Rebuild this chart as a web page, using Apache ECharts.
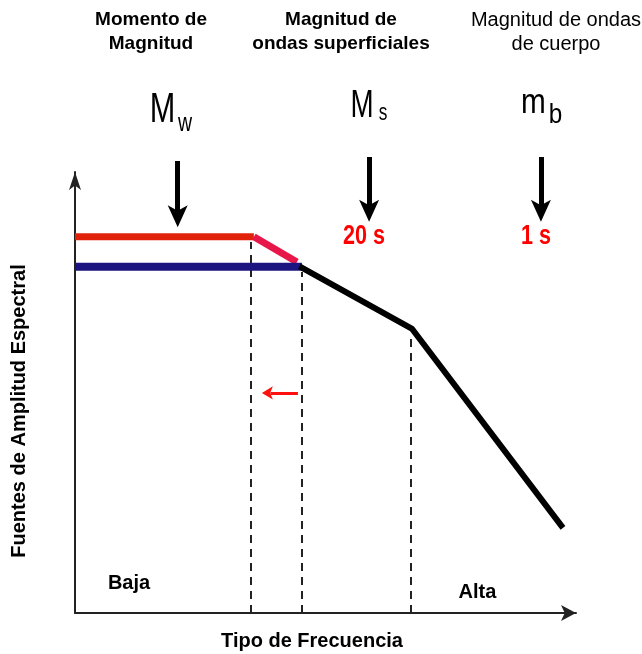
<!DOCTYPE html>
<html><head><meta charset="utf-8">
<script src="https://cdn.jsdelivr.net/npm/echarts@6/dist/echarts.min.js"></script>
<style>html,body{margin:0;padding:0;background:#fff}#c{width:642px;height:654px}</style>
</head><body><div id="c"></div>
<script>
// ---- data (axis units: 0..100 in both directions) ----
const redPlateau  = [[0, 85.3], [35.7, 85.3]];
const redSlope    = [[35.7, 85.3], [44.3, 79.6]];
const bluePlateau = [[0, 78.5], [45.3, 78.5]];
const blackDecay  = [[44.8, 78.6], [67.3, 64.4], [97.4, 19.3]];
const cornerLines = [
  [[35.1, 0], [35.1, 84.1]],
  [[45.3, 0], [45.3, 77.3]],
  [[67.1, 0], [67.1, 63.5]]
];
const arrowShafts = [
  [[20.5, 102.5], [20.5, 90.9]],
  [[58.7, 103.4], [58.7, 92.1]],
  [[93.0, 103.4], [93.0, 92.1]]
];
const arrowTips = [[20.5, 87.5], [58.7, 88.7], [93.0, 88.7]];
const shiftShaft = [[44.5, 49.9], [39.0, 49.9]];
const shiftTip = [37.3, 49.9];
const periodLabels = [['20 s', 364, 237], ['1 s', 536, 237]];
const topLabels = ['Momento de\nMagnitud', 'Magnitud de\nondas superficiales', 'Magnitud de ondas\nde cuerpo'];
const xName = 'Tipo de Frecuencia';
const yName = 'Fuentes de Amplitud Espectral';
const bandLabels = ['Baja', 'Alta'];

const chart = echarts.init(document.getElementById('c'), null, {renderer: 'canvas'});
const F = '"Liberation Sans", Arial, Helvetica, sans-serif';
function txt(x, y, text, font, opts) {
  return Object.assign({
    type: 'text', x: x, y: y,
    style: {text: text, font: font, fill: '#000', align: 'center', textAlign: 'center',
            verticalAlign: 'middle', textVerticalAlign: 'middle', lineHeight: 24}
  }, opts || {});
}
const g = [
  txt(151, 32, topLabels[0], 'bold 19px ' + F),
  txt(341, 32, topLabels[1], 'bold 19px ' + F),
  txt(556, 32, topLabels[2], '20px ' + F),
  // magnitude symbols
  txt(162.5, 110, 'M', '42px ' + F, {scaleX: 0.73}),
  txt(185, 124, 'w', '26px ' + F, {scaleX: 0.75}),
  txt(362, 106.5, 'M', '38px ' + F, {scaleX: 0.73}),
  txt(383, 114, 's', '23px ' + F, {scaleX: 0.75}),
  txt(533.5, 103, 'm', '35px ' + F, {scaleX: 0.85}),
  txt(555.5, 115.5, 'b', '27px ' + F, {scaleX: 0.9}),
  txt(129, 583, bandLabels[0], 'bold 20px ' + F),
  txt(477.5, 592, bandLabels[1], 'bold 20px ' + F),
  txt(312, 641, xName, 'bold 20px ' + F),
  txt(19, 411, yName, 'bold 20px ' + F, {rotation: Math.PI / 2})
];
periodLabels.forEach(p => {
  const t = txt(p[1], p[2], p[0], 'bold 27px ' + F, {scaleX: 0.8});
  t.style.fill = '#ff0000';
  g.push(t);
});

function seg(data, color, width) {
  return {type: 'line', data: data, symbol: 'none', clip: false, silent: true,
          lineStyle: {color: color, width: width, cap: 'butt'}, z: 3};
}
const hiddenAxis = {
  type: 'value', min: 0, max: 100,
  axisLabel: {show: false}, axisTick: {show: false}, splitLine: {show: false}
};
chart.setOption({
  animation: false,
  backgroundColor: '#fff',
  grid: {left: 75, top: 172, right: 66, bottom: 41},
  xAxis: Object.assign({}, hiddenAxis, {
    axisLine: {show: true, symbol: ['none', 'arrow'], symbolSize: [12, 15],
               lineStyle: {color: '#222', width: 2}}
  }),
  yAxis: Object.assign({}, hiddenAxis, {
    axisLine: {show: true, symbol: ['none', 'arrow'], symbolSize: [9, 18],
               lineStyle: {color: '#222', width: 2}}
  }),
  graphic: g,
  series: [
    {type: 'lines', coordinateSystem: 'cartesian2d', clip: false, silent: true, z: 2,
     lineStyle: {color: '#222', width: 2, type: [8, 6], opacity: 1},
     data: cornerLines.map(c => ({coords: c}))},
    seg(redPlateau, '#e0220a', 7),
    seg(redSlope, '#e8174a', 7),
    seg(bluePlateau, '#1c1480', 8),
    seg(blackDecay, '#000', 6),
    {type: 'lines', coordinateSystem: 'cartesian2d', clip: false, silent: true, z: 4,
     lineStyle: {color: '#000', width: 5, opacity: 1},
     data: arrowShafts.map(c => ({coords: c}))},
    {type: 'lines', coordinateSystem: 'cartesian2d', clip: false, silent: true, z: 4,
     lineStyle: {color: '#ff1010', width: 3, opacity: 1},
     data: [{coords: shiftShaft}]},
    {type: 'scatter', clip: false, silent: true, z: 5, symbol: 'arrow',
     symbolSize: [15, 22], symbolRotate: 180, itemStyle: {color: '#000', opacity: 1},
     data: arrowTips},
    {type: 'scatter', clip: false, silent: true, z: 5, symbol: 'arrow',
     symbolSize: [10, 11], symbolRotate: 90, itemStyle: {color: '#ff1010', opacity: 1},
     data: [shiftTip]}
  ]
});
</script>
</body></html>
